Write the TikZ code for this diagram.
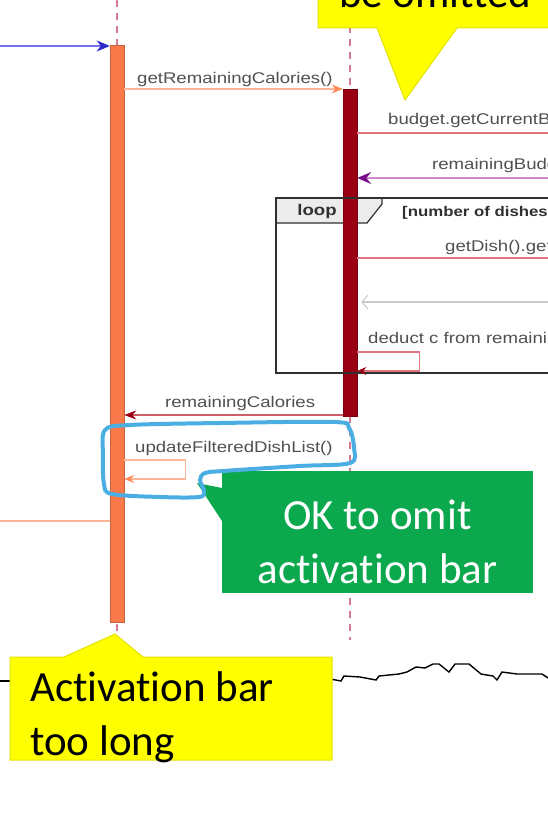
\documentclass[tikz,border=0pt]{standalone}
\usepackage{fontspec}
\usepackage{xcolor}
\usepackage{tikz}
\usetikzlibrary{arrows.meta,positioning}

\newfontfamily\umlfont[FakeStretch=1.2]{Liberation Sans}
\newfontfamily\notefont[Ligatures=NoCommon]{Carlito}

\definecolor{coralbar}{HTML}{FA7A4C}
\definecolor{darkbar}{HTML}{990014}
\definecolor{lifepink}{HTML}{D37A92}
\definecolor{msgorange}{HTML}{FFB598}
\definecolor{headorange}{HTML}{FF8A55}
\definecolor{msgred}{HTML}{DD7480}
\definecolor{msgpurple}{HTML}{CC8ACC}
\definecolor{headpurple}{HTML}{7A0A8A}
\definecolor{msgblue}{HTML}{7070F0}
\definecolor{headblue}{HTML}{2A2AC8}
\definecolor{msggrey}{HTML}{C9C9C9}
\definecolor{labelgrey}{HTML}{505050}
\definecolor{framegrey}{HTML}{303030}
\definecolor{loopgrey}{HTML}{ECECEC}
\definecolor{notegreen}{HTML}{0BA84E}
\definecolor{noteyellow}{HTML}{FFFF00}
\definecolor{yellowedge}{HTML}{E2E200}
\definecolor{markblue}{HTML}{4AAEE3}

\tikzset{
  lifeline/.style={lifepink,line width=1.3pt,dash pattern=on 7pt off 6pt},
  actbar/.style={draw=#1!80!black,fill=#1,line width=0.5pt,minimum width=14pt,inner sep=0pt},
  msg/.style={line width=1.1pt},
  msglabel/.style={anchor=west,inner sep=0pt,text=labelgrey,font=\umlfont\fontsize{15.5}{18}\selectfont},
  notetext/.style={inner sep=0pt,font=\notefont\fontsize{43}{54}\selectfont},
  noteshape/.style={fill=noteyellow,draw=yellowedge,line width=1pt}
}

\begin{document}
\begin{tikzpicture}[x=1pt,y=-1pt,>=Stealth]
\useasboundingbox (0,0) rectangle (548,832);
\clip (0,0) rectangle (548,832);
\coordinate (lEdge) at (0,0);
\coordinate (rEdge) at (560,0);
% lifelines
\draw[lifeline] (117,0) -- (117,640);
\draw[lifeline] (350,0) -- (350,640);
% loop label
\filldraw[fill=loopgrey,draw=framegrey,line width=1.2pt] (276,198) -- (382,198) -- (382,204) -- (367,223) -- (276,223) -- cycle;
\node[text=framegrey,font=\umlfont\bfseries\fontsize{15.5}{18}\selectfont] (lblLoop) at (317,211) {loop};
\node[anchor=west,inner sep=0pt,text=framegrey,font=\umlfont\bfseries\fontsize{14}{17}\selectfont] (lblGuard) at (402,213) {[number of dishes};
% activation bars
\node[actbar=coralbar,minimum height=577pt] (barL) at (117,333.5) {};
\node[actbar=darkbar,minimum height=327pt] (barR) at (350,252.5) {};
\draw[framegrey,line width=2.4pt] (276,198) rectangle (rEdge |- 0,373);
% messages
\coordinate (yIn) at (0,46);
\draw[msg,msgblue,-{Stealth[length=13pt,width=11pt,inset=4pt,color=headblue]}] (yIn) -- (yIn -| barL.west);
\coordinate (yGet) at (0,89);
\draw[msg,msgorange,-{Stealth[length=11pt,width=9pt,color=headorange]}] (barL.east |- yGet) -- (barR.west |- yGet);
\node[msglabel] (lblGet) at (137,79) {getRemainingCalories()};
\coordinate (yBud) at (0,133);
\draw[msg,msgred] (barR.east |- yBud) -- (rEdge |- yBud);
\node[msglabel] (lblBud) at (388,120) {budget.getCurrentB};
\coordinate (yRemB) at (0,178);
\draw[msg,msgpurple,-{Stealth[length=14pt,width=12pt,inset=5pt,color=headpurple]}] (rEdge |- yRemB) -- (barR.east |- yRemB);
\node[msglabel] (lblRemB) at (432,165) {remainingBudg};
\coordinate (yDish) at (0,258);
\draw[msg,msgred] (barR.east |- yDish) -- (rEdge |- yDish);
\node[msglabel] (lblDish) at (445,247) {getDish().get};
\coordinate (yBack) at (0,302);
\draw[msg,msggrey,-{Straight Barb[length=6pt,width=14pt]}] (rEdge |- yBack) -- ([xshift=4pt]barR.east |- yBack);
\coordinate (yDedA) at (0,352);
\coordinate (yDedB) at (0,371);
\draw[msg,msgred,-{Stealth[length=9pt,width=8pt,color=darkbar]}] (barR.east |- yDedA) -- ++(62,0) |- (barR.east |- yDedB);
\node[msglabel] (lblDed) at (368,338) {deduct c from remaini};
\coordinate (yRemC) at (0,415);
\draw[msg,msgred!80!darkbar,-{Stealth[length=12pt,width=9pt,color=darkbar]}] (barR.west |- yRemC) -- (barL.east |- yRemC);
\node[msglabel] (lblRemC) at (165,403) {remainingCalories};
\coordinate (yUpdA) at (0,460);
\coordinate (yUpdB) at (0,479);
\draw[msg,msgorange,-{Stealth[length=10pt,width=8pt,color=headorange]}] (barL.east |- yUpdA) -- ++(61,0) |- (barL.east |- yUpdB);
\node[msglabel] (lblUpd) at (135,448) {updateFilteredDishList()};
\coordinate (yOut) at (0,521);
\draw[msg,msgorange] (lEdge |- yOut) -- (barL.west |- yOut);
% torn edge
\draw[line width=1.4pt] (0,681) -- (20,681);
\draw[line width=1.4pt] (325,678) -- (341,681) -- (344,676) -- (360,677) -- (376,680) -- (379,676) -- (399,674) -- (407,672) -- (416,667) -- (425,668) -- (433,664) -- (439,664) -- (449,672) -- (455,664) -- (469,664) -- (481,674) -- (493,676) -- (497,680) -- (502,672) -- (517,674) -- (542,674) -- (548,678);
% callouts
\filldraw[noteshape] (318,-20) -- (318,28) -- (377,28) -- (405,100) -- (457,28) -- (570,28) -- (570,-20) -- cycle;
\node[notetext,anchor=base west] (noteTop) at (339,8) {be omitted};
\fill[notegreen] (222,471) rectangle (533,593);
\fill[notegreen] (222,488) -- (197,483) -- (222,521) -- cycle;
\node[notetext,text=white,align=center] (noteOk) at (377.5,541.5) {OK to omit\\activation bar};
\filldraw[noteshape] (10,657) -- (64,657) -- (115,634) -- (143,657) -- (332,657) -- (332,760) -- (10,760) -- cycle;
\node[notetext,align=left,anchor=north west] (noteLong) at (30,671) {Activation bar\\too long};
% hand drawn mark
\draw[markblue,line width=4pt] plot[smooth cycle,tension=0.55] coordinates {(105,430) (130,425) (220,423) (334,422) (349,428) (354,448) (350,463) (300,466) (223,471) (205,473) (200,480) (204,491) (199,497) (160,497) (112,494) (104,484) (103,455)};
\end{tikzpicture}
\end{document}
